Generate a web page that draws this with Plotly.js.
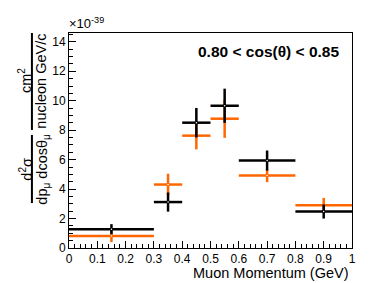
<!DOCTYPE html>
<html>
<head>
<meta charset="utf-8">
<script src="https://cdn.plot.ly/plotly-3.0.1.min.js"></script>
<style>html,body{margin:0;padding:0;background:#fff}#plot{width:387px;height:283px}</style>
</head>
<body>
<div id="plot"></div>
<script>
// Bins (muon momentum, GeV)
var binLow  = [0.0, 0.3, 0.4, 0.5, 0.6, 0.8];
var binHigh = [0.3, 0.4, 0.5, 0.6, 0.8, 1.0];
// Black series (x1e-39)
var blackVal = [1.28, 3.12, 8.51, 9.66, 5.94, 2.48];
var blackErr = [0.34, 0.65, 1.00, 1.16, 0.68, 0.48];
// Orange series (x1e-39)
var orangeVal = [0.82, 4.31, 7.63, 8.78, 4.92, 2.90];
var orangeErr = [0.42, 0.73, 0.93, 1.30, 0.45, 0.50];

var centers = binLow.map(function(l, i){ return (l + binHigh[i]) / 2; });
var halfW = binLow.map(function(l, i){ return (binHigh[i] - l) / 2; });

function series(vals, errs, color) {
  return {
    x: centers, y: vals, type: 'scatter', mode: 'markers',
    marker: {size: 1.5, color: '#ffffff'},
    error_x: {type: 'data', array: halfW, visible: true, color: color, thickness: 2.5, width: 0},
    error_y: {type: 'data', array: errs, visible: true, color: color, thickness: 2.5, width: 0},
    showlegend: false, hoverinfo: 'skip'
  };
}

var data = [series(orangeVal, orangeErr, '#ff6600'), series(blackVal, blackErr, '#000000')];

var fam = 'Liberation Sans, Arial, sans-serif';
var tickFont = {family: fam, size: 12, color: '#000'};
var titleFont = {family: fam, size: 14.5, color: '#000'};

var layout = {
  width: 387, height: 283,
  margin: {l: 69, r: 35, t: 33, b: 35},
  paper_bgcolor: '#fff', plot_bgcolor: '#fff',
  font: tickFont,
  xaxis: {
    range: [0, 1], dtick: 0.1, tick0: 0, ticks: 'inside', ticklen: 7, tickcolor: '#000',
    minor: {dtick: 0.02, ticks: 'inside', ticklen: 4, tickcolor: '#000'},
    showgrid: false, zeroline: false, showline: true, linecolor: '#000', linewidth: 1, mirror: true,
    tickfont: tickFont, fixedrange: true, ticklabelstandoff: 0
  },
  yaxis: {
    range: [0, 14.6], dtick: 2, tick0: 0, ticks: 'inside', ticklen: 7, tickcolor: '#000',
    minor: {dtick: 0.5, ticks: 'inside', ticklen: 4, tickcolor: '#000'},
    showgrid: false, zeroline: false, showline: true, linecolor: '#000', linewidth: 1, mirror: true,
    tickfont: tickFont, fixedrange: true
  },
  annotations: [
    {text: '<b>0.80 &lt; cos(θ) &lt; 0.85</b>', xref: 'paper', yref: 'paper', x: 0.961, y: 0.912,
     xanchor: 'right', yanchor: 'middle', showarrow: false, font: {family: fam, size: 15.5, color: '#000'}},
    {text: 'Muon Momentum (GeV)', xref: 'paper', yref: 'paper', x: 0.995, y: -0.117,
     xanchor: 'right', yanchor: 'middle', showarrow: false, font: titleFont},
    {text: '×10<sup>-39</sup>', xref: 'paper', yref: 'paper', x: -0.006, y: 1.0,
     xanchor: 'left', yanchor: 'bottom', showarrow: false, font: {family: fam, size: 13, color: '#000'}},
    // y-axis title pieces (rotated)
    {text: 'cm<sup>2</sup>', xref: 'paper', yref: 'paper', x: -0.155, y: 0.777, textangle: -90,
     xanchor: 'center', yanchor: 'middle', showarrow: false, font: titleFont},
    {text: 'nucleon GeV/c', xref: 'paper', yref: 'paper', x: -0.1, y: 0.777, textangle: -90,
     xanchor: 'center', yanchor: 'middle', showarrow: false, font: titleFont},
    {text: 'd<sup>2</sup>σ', xref: 'paper', yref: 'paper', x: -0.155, y: 0.365, textangle: -90,
     xanchor: 'center', yanchor: 'middle', showarrow: false, font: titleFont},
    {text: 'dp<sub>μ</sub> dcosθ<sub>μ</sub>', xref: 'paper', yref: 'paper', x: -0.095, y: 0.365, textangle: -90,
     xanchor: 'center', yanchor: 'middle', showarrow: false, font: titleFont}
  ],
  shapes: [
    {type: 'line', xref: 'paper', yref: 'paper', x0: -0.131, x1: -0.131, y0: 0.549, y1: 1.0, line: {color: '#000', width: 2}},
    {type: 'line', xref: 'paper', yref: 'paper', x0: -0.131, x1: -0.131, y0: 0.209, y1: 0.526, line: {color: '#000', width: 2}}
  ]
};

Plotly.newPlot('plot', data, layout, {staticPlot: true, displayModeBar: false});
</script>
</body>
</html>
